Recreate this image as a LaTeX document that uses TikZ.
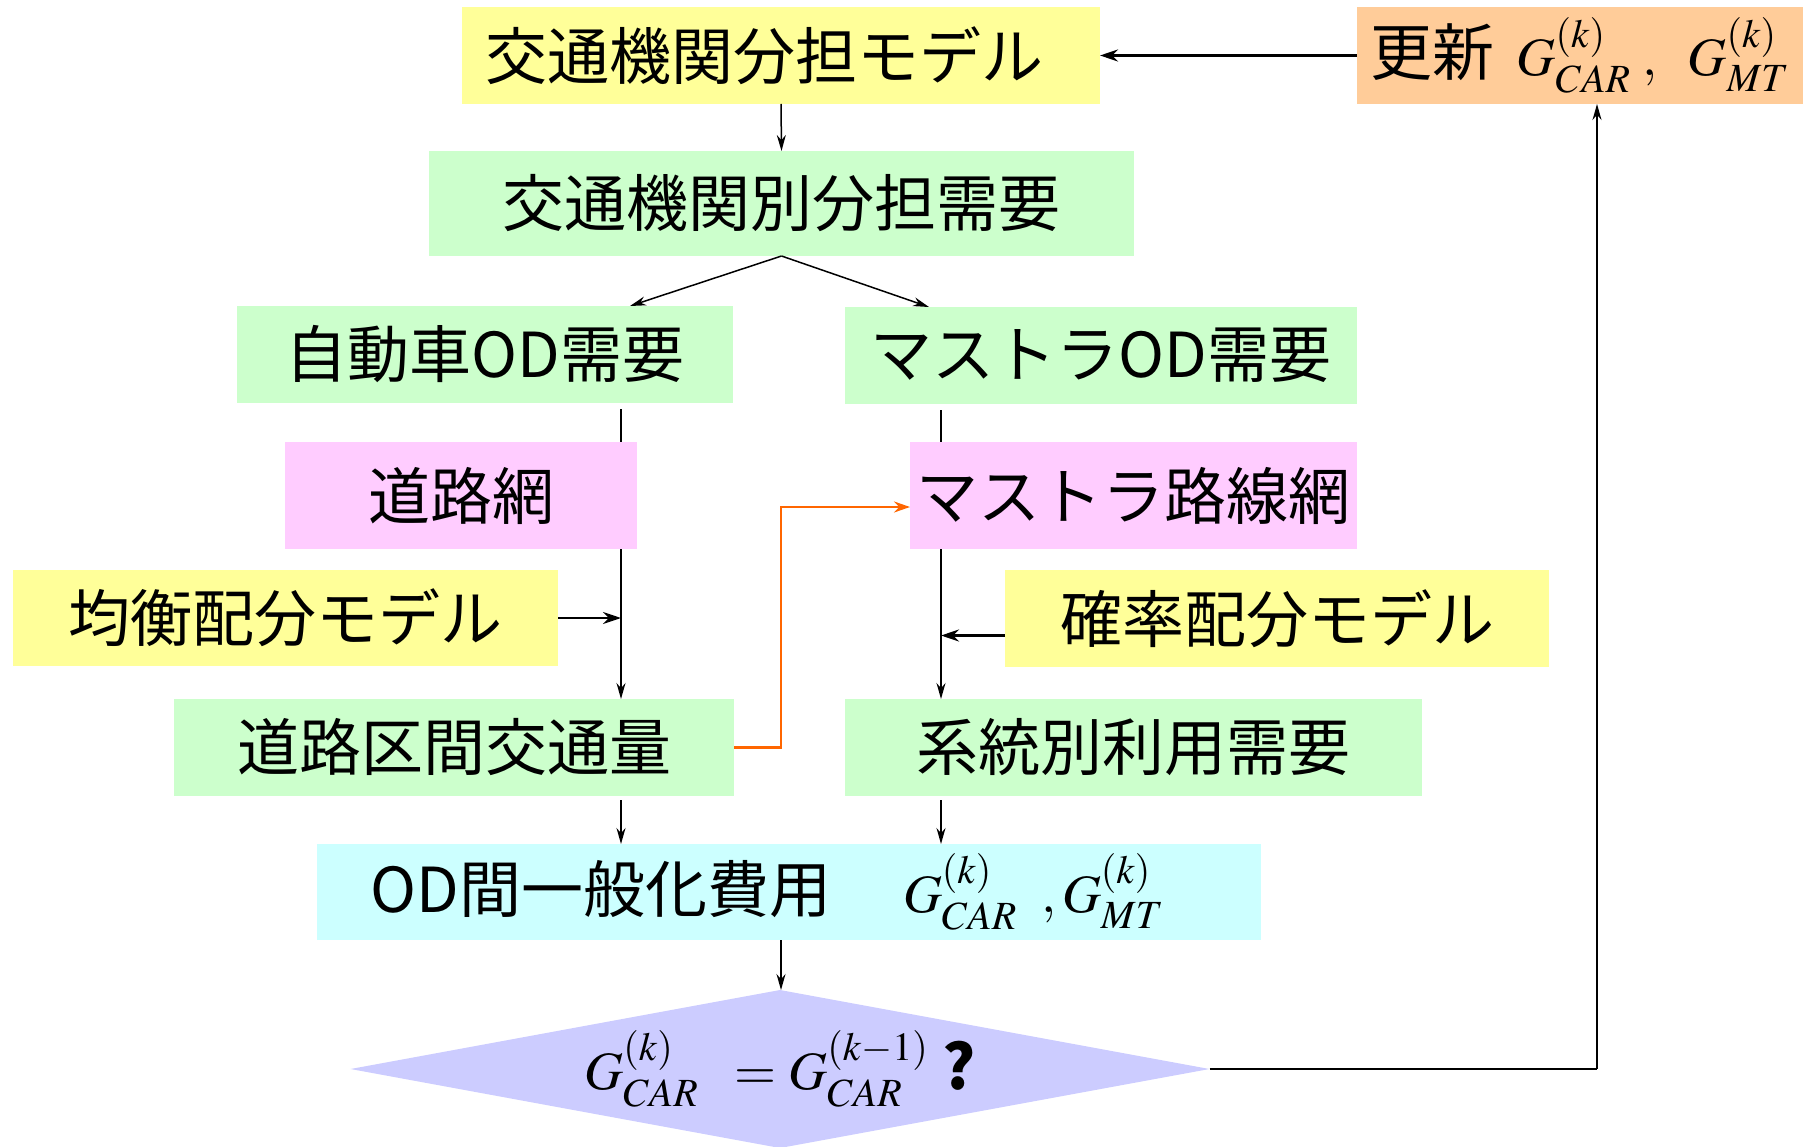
\documentclass[tikz,border=0pt]{standalone}
\usepackage{mathptmx}
\usepackage[no-math]{fontspec}
\setmainfont{Noto Sans CJK JP}
\usetikzlibrary{shapes.geometric,arrows.meta,calc,backgrounds}
\definecolor{cyel}{HTML}{FFFF99}
\definecolor{cgrn}{HTML}{CCFFCC}
\definecolor{cpnk}{HTML}{FFCCFF}
\definecolor{ccya}{HTML}{CCFFFF}
\definecolor{corg}{HTML}{FFCC99}
\definecolor{clav}{HTML}{CCCCFF}
\definecolor{cline}{HTML}{FF6600}
\newcommand{\jpfont}{\fontsize{62}{70}\selectfont}
\newcommand{\mathsz}{\fontsize{54}{60}\selectfont}
\begin{document}
\begin{tikzpicture}[x=1pt,y=-1pt,
  box/.style={inner sep=0pt, outer sep=0pt, font=\jpfont, text=black},
  thinarr/.style={line width=1.5pt, -{Stealth[length=16pt,width=9pt]}},
  thickarr/.style={line width=2.5pt, -{Stealth[length=18pt,width=12pt]}},
  orangearr/.style={line width=2.5pt, draw=cline, -{Stealth[length=16pt,width=11pt]}}]
\useasboundingbox (0,0) rectangle (1803,1147);
% nodes
\node[box, fill=cyel, minimum width=638pt, minimum height=97pt] (b1) at (781,55.5) {\hspace*{-34pt}交通機関分担モデル};
\node[box, fill=corg, minimum width=446pt, minimum height=97pt] (upd) at (1580,55.5) {更新\hspace{22pt}{\mathsz$G^{(k)}_{CAR}\ ,\;\;G^{(k)}_{MT}$}};
\node[box, fill=cgrn, minimum width=705pt, minimum height=105pt] (b2) at (781.5,203.5) {交通機関別分担需要};
\node[box, fill=cgrn, minimum width=496pt, minimum height=97pt] (car) at (485,354.5) {自動車OD需要};
\node[box, fill=cgrn, minimum width=512pt, minimum height=97pt] (mt) at (1101,355.5) {マストラOD需要};
\node[box, fill=cpnk, minimum width=352pt, minimum height=107pt] (road) at (461,495.5) {道路網};
\node[box, fill=cpnk, minimum width=447pt, minimum height=107pt] (mtnet) at (1133.5,495.5) {マストラ路線網};
\node[box, fill=cyel, minimum width=545pt, minimum height=96pt] (eq) at (285.5,618) {均衡配分モデル};
\node[box, fill=cyel, minimum width=544pt, minimum height=97pt] (prob) at (1277,618.5) {確率配分モデル};
\node[box, fill=cgrn, minimum width=560pt, minimum height=97pt] (flow) at (454,747.5) {道路区間交通量};
\node[box, fill=cgrn, minimum width=577pt, minimum height=97pt] (use) at (1133.5,747.5) {系統別利用需要};
\node[box, fill=ccya, minimum width=944pt, minimum height=96pt] (cost) at (789,892) {\hspace*{-44pt}OD間一般化費用\hspace{72pt}{\mathsz$G^{(k)}_{CAR}\ \ ,G^{(k)}_{MT}$}};
\node[box, shape=diamond, aspect=5.44, fill=clav, minimum width=859pt, minimum height=158pt] (dia) at (780,1069) {{\mathsz$G^{(k)}_{CAR}\ \ =G^{(k-1)}_{CAR}$}\ {\bfseries ?}};
% helper columns
\coordinate (L) at (621,0);
\coordinate (R) at (941,0);
\coordinate (O) at (781,0);
\coordinate (P) at (1597,0);
\coordinate (pa) at ($(prob.west)+(0,17)$);
\coordinate (oa) at ($(mtnet.west)+(0,11.5)$);
% connectors
\draw[thickarr] (upd.west) -- (b1.east);
\draw[thinarr] (b1.south) -- (b2.north);
\draw[thinarr] (b2.south) -- ([xshift=145pt]car.north);
\draw[thinarr] (b2.south) -- ([xshift=-172pt]mt.north);
\begin{scope}[on background layer]
\draw[thinarr] ($(L |- car.south)+(0,6)$) -- (L |- flow.north);
\draw[thinarr] ($(R |- mt.south)+(0,6)$) -- (R |- use.north);
\end{scope}
\draw[thickarr] (eq.east) -- (L |- eq.east);
\draw[thickarr] (pa) -- (R |- pa);
\draw[orangearr] (flow.east) -| (O |- oa) -- (oa);
\draw[thinarr] ($(L |- flow.south)+(0,4)$) -- (L |- cost.north);
\draw[thinarr] ($(R |- use.south)+(0,4)$) -- (R |- cost.north);
\draw[thinarr] (O |- cost.south) -- (O |- dia.north);
\draw[line width=2.5pt] (dia.east) -- (P |- dia.east);
\draw[thinarr] (P |- dia.east) -- (P |- upd.south);
\end{tikzpicture}
\end{document}
